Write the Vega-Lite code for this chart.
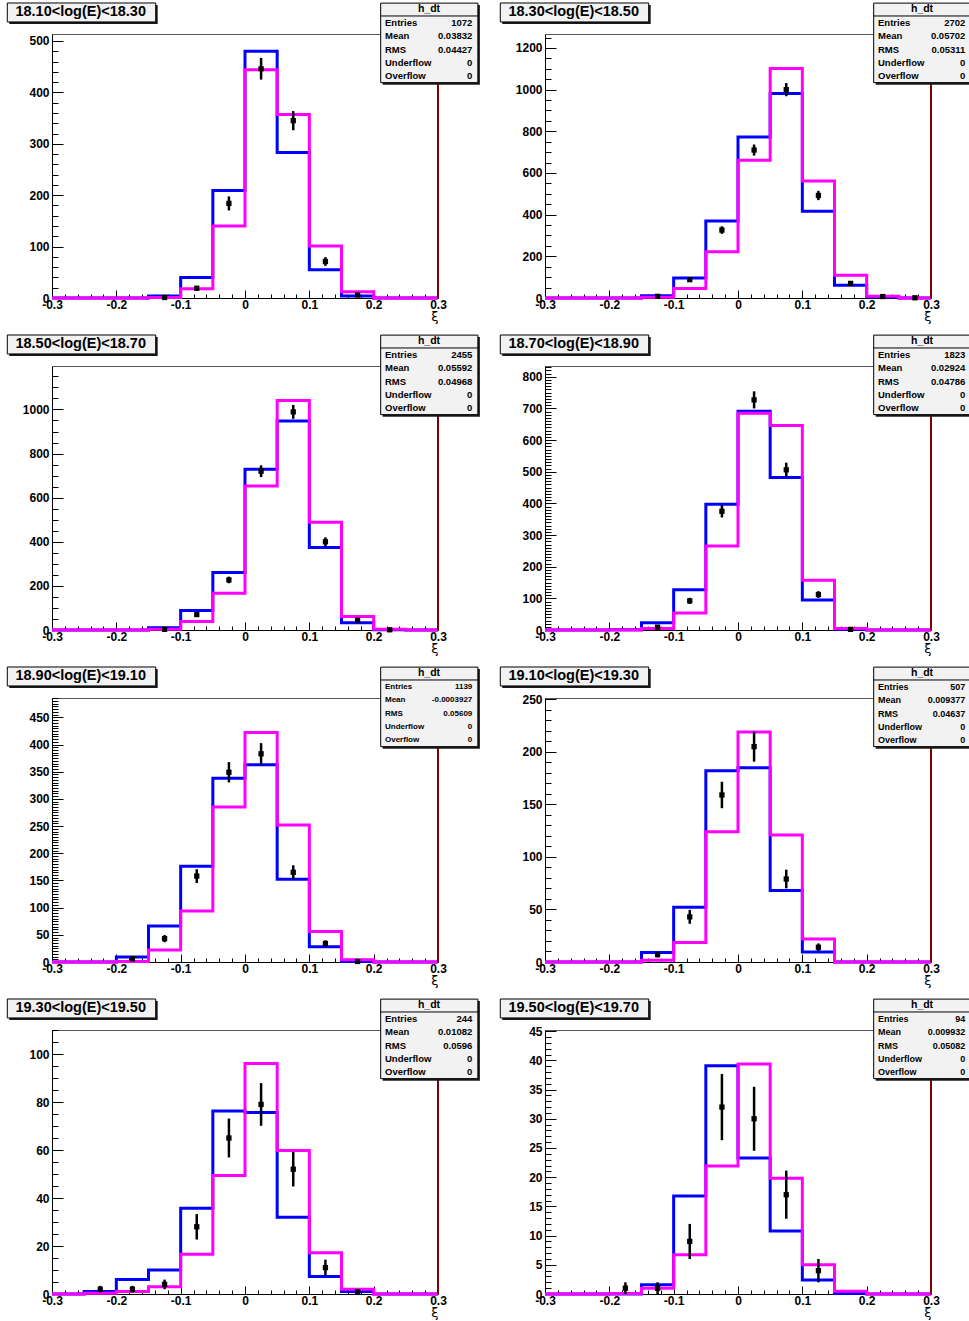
{
"$schema":"https://vega.github.io/schema/vega-lite/v6.json",
"padding":{"left":6,"top":1,"right":5,"bottom":5},
"autosize":{"type":"pad"},
"config":{
"view":{"stroke":"#555555","strokeWidth":1},
"axis":{"labelFont":"Liberation Sans","labelFontSize":12,"labelFontWeight":"bold","labelColor":"#000000","tickColor":"#000000","domainColor":"#000000","domainWidth":1,"tickWidth":1,"grid":false,"labelFlush":false,"labelOverlap":false,"titleColor":"#000000"},
"text":{"font":"Liberation Sans","color":"#000000"}
},
"datasets":{
"t":[
{"p":1,"name":"18.10<log(E)<18.30","h":"h_dt"},
{"p":2,"name":"18.30<log(E)<18.50","h":"h_dt"},
{"p":3,"name":"18.50<log(E)<18.70","h":"h_dt"},
{"p":4,"name":"18.70<log(E)<18.90","h":"h_dt"},
{"p":5,"name":"18.90<log(E)<19.10","h":"h_dt"},
{"p":6,"name":"19.10<log(E)<19.30","h":"h_dt"},
{"p":7,"name":"19.30<log(E)<19.50","h":"h_dt"},
{"p":8,"name":"19.50<log(E)<19.70","h":"h_dt"}
],
"s":[
{"p":1,"r":1,"k":"Entries","v":"1072"},{"p":1,"r":2,"k":"Mean","v":"0.03832"},{"p":1,"r":3,"k":"RMS","v":"0.04427"},{"p":1,"r":4,"k":"Underflow","v":"0"},{"p":1,"r":5,"k":"Overflow","v":"0"},
{"p":2,"r":1,"k":"Entries","v":"2702"},{"p":2,"r":2,"k":"Mean","v":"0.05702"},{"p":2,"r":3,"k":"RMS","v":"0.05311"},{"p":2,"r":4,"k":"Underflow","v":"0"},{"p":2,"r":5,"k":"Overflow","v":"0"},
{"p":3,"r":1,"k":"Entries","v":"2455"},{"p":3,"r":2,"k":"Mean","v":"0.05592"},{"p":3,"r":3,"k":"RMS","v":"0.04968"},{"p":3,"r":4,"k":"Underflow","v":"0"},{"p":3,"r":5,"k":"Overflow","v":"0"},
{"p":4,"r":1,"k":"Entries","v":"1823"},{"p":4,"r":2,"k":"Mean","v":"0.02924"},{"p":4,"r":3,"k":"RMS","v":"0.04786"},{"p":4,"r":4,"k":"Underflow","v":"0"},{"p":4,"r":5,"k":"Overflow","v":"0"},
{"p":5,"r":1,"k":"Entries","v":"1139"},{"p":5,"r":2,"k":"Mean","v":"-0.0003927"},{"p":5,"r":3,"k":"RMS","v":"0.05609"},{"p":5,"r":4,"k":"Underflow","v":"0"},{"p":5,"r":5,"k":"Overflow","v":"0"},
{"p":6,"r":1,"k":"Entries","v":"507"},{"p":6,"r":2,"k":"Mean","v":"0.009377"},{"p":6,"r":3,"k":"RMS","v":"0.04637"},{"p":6,"r":4,"k":"Underflow","v":"0"},{"p":6,"r":5,"k":"Overflow","v":"0"},
{"p":7,"r":1,"k":"Entries","v":"244"},{"p":7,"r":2,"k":"Mean","v":"0.01082"},{"p":7,"r":3,"k":"RMS","v":"0.0596"},{"p":7,"r":4,"k":"Underflow","v":"0"},{"p":7,"r":5,"k":"Overflow","v":"0"},
{"p":8,"r":1,"k":"Entries","v":"94"},{"p":8,"r":2,"k":"Mean","v":"0.009932"},{"p":8,"r":3,"k":"RMS","v":"0.05082"},{"p":8,"r":4,"k":"Underflow","v":"0"},{"p":8,"r":5,"k":"Overflow","v":"0"}
],
"h":[
{"p":1,"lo":-0.3,"hi":-0.25,"c":-0.275,"b":0,"m":0},
{"p":1,"lo":-0.25,"hi":-0.2,"c":-0.225,"b":0,"m":0},
{"p":1,"lo":-0.2,"hi":-0.15,"c":-0.175,"b":0,"m":0},
{"p":1,"lo":-0.15,"hi":-0.1,"c":-0.125,"b":4,"m":1,"d":1,"e":1},
{"p":1,"lo":-0.1,"hi":-0.05,"c":-0.075,"b":40,"m":18,"d":19,"e":4.4},
{"p":1,"lo":-0.05,"hi":0,"c":-0.025,"b":209,"m":140,"d":184,"e":13.6},
{"p":1,"lo":0,"hi":0.05,"c":0.025,"b":480,"m":444,"d":446,"e":21.1},
{"p":1,"lo":0.05,"hi":0.1,"c":0.075,"b":283,"m":357,"d":345,"e":18.6},
{"p":1,"lo":0.1,"hi":0.15,"c":0.125,"b":55,"m":101,"d":71,"e":8.4},
{"p":1,"lo":0.15,"hi":0.2,"c":0.175,"b":4,"m":12,"d":6,"e":2.4},
{"p":1,"lo":0.2,"hi":0.25,"c":0.225,"b":0,"m":0},
{"p":1,"lo":0.25,"hi":0.3,"c":0.275,"b":0,"m":0},
{"p":2,"lo":-0.3,"hi":-0.25,"c":-0.275,"b":0,"m":0},
{"p":2,"lo":-0.25,"hi":-0.2,"c":-0.225,"b":0,"m":0},
{"p":2,"lo":-0.2,"hi":-0.15,"c":-0.175,"b":0,"m":0},
{"p":2,"lo":-0.15,"hi":-0.1,"c":-0.125,"b":11,"m":4,"d":8,"e":2.8},
{"p":2,"lo":-0.1,"hi":-0.05,"c":-0.075,"b":96,"m":46,"d":88,"e":9.4},
{"p":2,"lo":-0.05,"hi":0,"c":-0.025,"b":370,"m":222,"d":326,"e":18.1},
{"p":2,"lo":0,"hi":0.05,"c":0.025,"b":773,"m":661,"d":710,"e":26.6},
{"p":2,"lo":0.05,"hi":0.1,"c":0.075,"b":981,"m":1101,"d":1000,"e":31.6},
{"p":2,"lo":0.1,"hi":0.15,"c":0.125,"b":416,"m":562,"d":492,"e":22.2},
{"p":2,"lo":0.15,"hi":0.2,"c":0.175,"b":61,"m":109,"d":70,"e":8.4},
{"p":2,"lo":0.2,"hi":0.25,"c":0.225,"b":5,"m":8,"d":7,"e":2.6},
{"p":2,"lo":0.25,"hi":0.3,"c":0.275,"b":0,"m":0,"d":1,"e":1},
{"p":3,"lo":-0.3,"hi":-0.25,"c":-0.275,"b":0,"m":0},
{"p":3,"lo":-0.25,"hi":-0.2,"c":-0.225,"b":0,"m":0},
{"p":3,"lo":-0.2,"hi":-0.15,"c":-0.175,"b":0,"m":0},
{"p":3,"lo":-0.15,"hi":-0.1,"c":-0.125,"b":10,"m":3,"d":3,"e":1.7},
{"p":3,"lo":-0.1,"hi":-0.05,"c":-0.075,"b":88,"m":38,"d":70,"e":8.4},
{"p":3,"lo":-0.05,"hi":0,"c":-0.025,"b":261,"m":167,"d":227,"e":15.1},
{"p":3,"lo":0,"hi":0.05,"c":0.025,"b":729,"m":653,"d":720,"e":26.8},
{"p":3,"lo":0.05,"hi":0.1,"c":0.075,"b":948,"m":1041,"d":989,"e":31.4},
{"p":3,"lo":0.1,"hi":0.15,"c":0.125,"b":374,"m":488,"d":400,"e":20},
{"p":3,"lo":0.15,"hi":0.2,"c":0.175,"b":33,"m":61,"d":45,"e":6.7},
{"p":3,"lo":0.2,"hi":0.25,"c":0.225,"b":1,"m":3,"d":1,"e":1},
{"p":3,"lo":0.25,"hi":0.3,"c":0.275,"b":0,"m":0},
{"p":4,"lo":-0.3,"hi":-0.25,"c":-0.275,"b":0,"m":0},
{"p":4,"lo":-0.25,"hi":-0.2,"c":-0.225,"b":0,"m":0},
{"p":4,"lo":-0.2,"hi":-0.15,"c":-0.175,"b":1,"m":0},
{"p":4,"lo":-0.15,"hi":-0.1,"c":-0.125,"b":23,"m":5,"d":9,"e":3},
{"p":4,"lo":-0.1,"hi":-0.05,"c":-0.075,"b":127,"m":54,"d":92,"e":9.6},
{"p":4,"lo":-0.05,"hi":0,"c":-0.025,"b":397,"m":265,"d":375,"e":19.4},
{"p":4,"lo":0,"hi":0.05,"c":0.025,"b":691,"m":685,"d":727,"e":27},
{"p":4,"lo":0.05,"hi":0.1,"c":0.075,"b":482,"m":646,"d":506,"e":22.5},
{"p":4,"lo":0.1,"hi":0.15,"c":0.125,"b":95,"m":157,"d":112,"e":10.6},
{"p":4,"lo":0.15,"hi":0.2,"c":0.175,"b":2,"m":5,"d":2,"e":1.4},
{"p":4,"lo":0.2,"hi":0.25,"c":0.225,"b":0,"m":0},
{"p":4,"lo":0.25,"hi":0.3,"c":0.275,"b":0,"m":0},
{"p":5,"lo":-0.3,"hi":-0.25,"c":-0.275,"b":0,"m":0},
{"p":5,"lo":-0.25,"hi":-0.2,"c":-0.225,"b":0,"m":0},
{"p":5,"lo":-0.2,"hi":-0.15,"c":-0.175,"b":9,"m":1,"d":6,"e":2.4},
{"p":5,"lo":-0.15,"hi":-0.1,"c":-0.125,"b":66,"m":22,"d":43,"e":6.6},
{"p":5,"lo":-0.1,"hi":-0.05,"c":-0.075,"b":176,"m":94,"d":158,"e":12.6},
{"p":5,"lo":-0.05,"hi":0,"c":-0.025,"b":338,"m":285,"d":349,"e":18.7},
{"p":5,"lo":0,"hi":0.05,"c":0.025,"b":363,"m":422,"d":383,"e":19.6},
{"p":5,"lo":0.05,"hi":0.1,"c":0.075,"b":152,"m":252,"d":165,"e":12.8},
{"p":5,"lo":0.1,"hi":0.15,"c":0.125,"b":28,"m":56,"d":34,"e":5.8},
{"p":5,"lo":0.15,"hi":0.2,"c":0.175,"b":1,"m":4,"d":1,"e":1},
{"p":5,"lo":0.2,"hi":0.25,"c":0.225,"b":0,"m":0},
{"p":5,"lo":0.25,"hi":0.3,"c":0.275,"b":0,"m":0},
{"p":6,"lo":-0.3,"hi":-0.25,"c":-0.275,"b":0,"m":0},
{"p":6,"lo":-0.25,"hi":-0.2,"c":-0.225,"b":0,"m":0},
{"p":6,"lo":-0.2,"hi":-0.15,"c":-0.175,"b":0,"m":0},
{"p":6,"lo":-0.15,"hi":-0.1,"c":-0.125,"b":9,"m":1.6,"d":7,"e":2.6},
{"p":6,"lo":-0.1,"hi":-0.05,"c":-0.075,"b":52,"m":18.5,"d":43,"e":6.6},
{"p":6,"lo":-0.05,"hi":0,"c":-0.025,"b":182,"m":124,"d":159,"e":12.6},
{"p":6,"lo":0,"hi":0.05,"c":0.025,"b":185,"m":219,"d":205,"e":14.3},
{"p":6,"lo":0.05,"hi":0.1,"c":0.075,"b":68,"m":121,"d":79,"e":8.9},
{"p":6,"lo":0.1,"hi":0.15,"c":0.125,"b":9.5,"m":22,"d":14,"e":3.7},
{"p":6,"lo":0.15,"hi":0.2,"c":0.175,"b":0,"m":0},
{"p":6,"lo":0.2,"hi":0.25,"c":0.225,"b":0,"m":0},
{"p":6,"lo":0.25,"hi":0.3,"c":0.275,"b":0,"m":0},
{"p":7,"lo":-0.3,"hi":-0.25,"c":-0.275,"b":0,"m":0},
{"p":7,"lo":-0.25,"hi":-0.2,"c":-0.225,"b":1,"m":0.3,"d":2,"e":1.4},
{"p":7,"lo":-0.2,"hi":-0.15,"c":-0.175,"b":6,"m":1,"d":2,"e":1.4},
{"p":7,"lo":-0.15,"hi":-0.1,"c":-0.125,"b":10,"m":3,"d":4,"e":2},
{"p":7,"lo":-0.1,"hi":-0.05,"c":-0.075,"b":35.7,"m":16.6,"d":28,"e":5.3},
{"p":7,"lo":-0.05,"hi":0,"c":-0.025,"b":76.3,"m":49.4,"d":65,"e":8.1},
{"p":7,"lo":0,"hi":0.05,"c":0.025,"b":75.6,"m":96,"d":79,"e":8.9},
{"p":7,"lo":0.05,"hi":0.1,"c":0.075,"b":32,"m":59.8,"d":52,"e":7.2},
{"p":7,"lo":0.1,"hi":0.15,"c":0.125,"b":7.3,"m":17.2,"d":11,"e":3.3},
{"p":7,"lo":0.15,"hi":0.2,"c":0.175,"b":1,"m":2,"d":1,"e":1},
{"p":7,"lo":0.2,"hi":0.25,"c":0.225,"b":0,"m":0},
{"p":7,"lo":0.25,"hi":0.3,"c":0.275,"b":0,"m":0},
{"p":8,"lo":-0.3,"hi":-0.25,"c":-0.275,"b":0,"m":0},
{"p":8,"lo":-0.25,"hi":-0.2,"c":-0.225,"b":0,"m":0},
{"p":8,"lo":-0.2,"hi":-0.15,"c":-0.175,"b":0,"m":0.1,"d":1,"e":1},
{"p":8,"lo":-0.15,"hi":-0.1,"c":-0.125,"b":1.6,"m":1,"d":1,"e":1},
{"p":8,"lo":-0.1,"hi":-0.05,"c":-0.075,"b":16.8,"m":6.7,"d":9,"e":3},
{"p":8,"lo":-0.05,"hi":0,"c":-0.025,"b":39.1,"m":21.9,"d":32,"e":5.66},
{"p":8,"lo":0,"hi":0.05,"c":0.025,"b":23.3,"m":39.4,"d":30,"e":5.48},
{"p":8,"lo":0.05,"hi":0.1,"c":0.075,"b":10.8,"m":19.8,"d":17,"e":4.12},
{"p":8,"lo":0.1,"hi":0.15,"c":0.125,"b":2.4,"m":5,"d":4,"e":2},
{"p":8,"lo":0.15,"hi":0.2,"c":0.175,"b":0.1,"m":0.45},
{"p":8,"lo":0.2,"hi":0.25,"c":0.225,"b":0,"m":0},
{"p":8,"lo":0.25,"hi":0.3,"c":0.275,"b":0,"m":0}
]
},
"columns":2,
"spacing":{"row":68,"column":107},
"bounds":"flush",
"concat":[
{"width":386,"height":264,"resolve":{"scale":{"y":"independent"}},"layer":[
{"data":{"name":"h"},"transform":[{"filter":"datum.p==1"}],"resolve":{"axis":{"x":"independent","y":"independent"}},"layer":[
{"transform":[{"fold":["lo","hi"],"as":["k","x"]}],"mark":{"type":"line","color":"#0000ff","strokeWidth":3,"strokeJoin":"miter"},"encoding":{"x":{"field":"x","type":"quantitative","scale":{"domain":[-0.3,0.3],"nice":false,"zero":false},"axis":{"orient":"bottom","values":[-0.3,-0.2,-0.1,0,0.1,0.2,0.3],"labelExpr":"toString(datum.value)","tickSize":-8,"labelPadding":9,"title":"ξ","titleAnchor":"end","titleAlign":"right","titleFontSize":13,"titleFontWeight":"normal","titleFont":"DejaVu Sans","titlePadding":0}},"y":{"field":"b","type":"quantitative","scale":{"domain":[0,513.6],"nice":false,"zero":false},"axis":{"orient":"left","values":[0,100,200,300,400,500],"labelExpr":"toString(datum.value)","tickSize":-11,"labelPadding":14,"title":null}},"order":[{"field":"c","type":"quantitative"},{"field":"k","type":"nominal","sort":"descending"}]}},
{"transform":[{"fold":["lo","hi"],"as":["k","x"]}],"mark":{"type":"line","color":"#ff00ff","strokeWidth":3,"strokeJoin":"miter"},"encoding":{"x":{"field":"x","type":"quantitative","scale":{"domain":[-0.3,0.3],"nice":false,"zero":false},"axis":{"orient":"bottom","values":[-0.3,-0.28,-0.26,-0.24,-0.22,-0.2,-0.18,-0.16,-0.14,-0.12,-0.1,-0.08,-0.06,-0.04,-0.02,0,0.02,0.04,0.06,0.08,0.1,0.12,0.14,0.16,0.18,0.2,0.22,0.24,0.26,0.28,0.3],"labels":false,"domain":false,"tickSize":-4,"title":null}},"y":{"field":"m","type":"quantitative","scale":{"domain":[0,513.6],"nice":false,"zero":false},"axis":{"orient":"left","values":[0,20,40,60,80,100,120,140,160,180,200,220,240,260,280,300,320,340,360,380,400,420,440,460,480,500],"labels":false,"domain":false,"tickSize":-6,"title":null}},"order":[{"field":"c","type":"quantitative"},{"field":"k","type":"nominal","sort":"descending"}]}},
{"transform":[{"filter":"isValid(datum.d)"}],"mark":{"type":"errorbar","color":"#000000","thickness":2.5,"ticks":false},"encoding":{"x":{"field":"c","type":"quantitative","scale":{"domain":[-0.3,0.3],"nice":false,"zero":false},"axis":null},"y":{"field":"d","type":"quantitative","scale":{"domain":[0,513.6],"nice":false,"zero":false},"axis":null},"yError":{"field":"e"}}},
{"transform":[{"filter":"isValid(datum.d)"}],"mark":{"type":"square","size":28,"color":"#000000","opacity":1},"encoding":{"x":{"field":"c","type":"quantitative","scale":{"domain":[-0.3,0.3],"nice":false,"zero":false},"axis":null},"y":{"field":"d","type":"quantitative","scale":{"domain":[0,513.6],"nice":false,"zero":false},"axis":null}}},
{"mark":{"type":"rule","color":"#800000","strokeWidth":1},"encoding":{"x":{"datum":0.3,"type":"quantitative","scale":{"domain":[-0.3,0.3],"nice":false,"zero":false},"axis":null}}}
]},
{"data":{"name":"t"},"transform":[{"filter":"datum.p==1"}],"layer":[
{"mark":{"type":"rect","fill":"#1a1a1a","xOffset":2,"x2Offset":2,"yOffset":2,"y2Offset":2},"encoding":{"x":{"datum":-0.3695,"type":"quantitative","scale":{"domain":[-0.3,0.3],"nice":false,"zero":false},"axis":null},"x2":{"datum":-0.1388},"y":{"datum":-0.51,"type":"quantitative","scale":{"domain":[1.83,21.75],"reverse":true,"nice":false,"zero":false},"axis":null},"y2":{"datum":0.92}}},
{"mark":{"type":"rect","fill":"#f2f2f2","stroke":"#000000","strokeWidth":1},"encoding":{"x":{"datum":-0.3695,"type":"quantitative","scale":{"domain":[-0.3,0.3],"nice":false,"zero":false},"axis":null},"x2":{"datum":-0.1388},"y":{"datum":-0.51,"type":"quantitative","scale":{"domain":[1.83,21.75],"reverse":true,"nice":false,"zero":false},"axis":null},"y2":{"datum":0.92}}},
{"mark":{"type":"text","fontSize":14.5,"fontWeight":"bold","align":"center","baseline":"middle","color":"#000000"},"encoding":{"x":{"datum":-0.2554,"type":"quantitative","scale":{"domain":[-0.3,0.3],"nice":false,"zero":false},"axis":null},"y":{"datum":0.15,"type":"quantitative","scale":{"domain":[1.83,21.75],"reverse":true,"nice":false,"zero":false},"axis":null},"text":{"field":"name"}}},
{"mark":{"type":"rect","fill":"#1a1a1a","xOffset":2,"x2Offset":2,"yOffset":2,"y2Offset":2},"encoding":{"x":{"datum":0.2109,"type":"quantitative","scale":{"domain":[-0.3,0.3],"nice":false,"zero":false},"axis":null},"x2":{"datum":0.362},"y":{"datum":-0.5,"type":"quantitative","scale":{"domain":[1.83,21.75],"reverse":true,"nice":false,"zero":false},"axis":null},"y2":{"datum":5.5}}},
{"mark":{"type":"rect","fill":"#f2f2f2","stroke":"#000000","strokeWidth":1},"encoding":{"x":{"datum":0.2109,"type":"quantitative","scale":{"domain":[-0.3,0.3],"nice":false,"zero":false},"axis":null},"x2":{"datum":0.362},"y":{"datum":-0.5,"type":"quantitative","scale":{"domain":[1.83,21.75],"reverse":true,"nice":false,"zero":false},"axis":null},"y2":{"datum":5.5}}},
{"mark":{"type":"rule","color":"#000000","strokeWidth":1},"encoding":{"x":{"datum":0.2109,"type":"quantitative","scale":{"domain":[-0.3,0.3],"nice":false,"zero":false},"axis":null},"x2":{"datum":0.362},"y":{"datum":0.47,"type":"quantitative","scale":{"domain":[1.83,21.75],"reverse":true,"nice":false,"zero":false},"axis":null}}},
{"mark":{"type":"text","fontSize":10.5,"fontWeight":"bold","align":"center","baseline":"middle","color":"#000000"},"encoding":{"x":{"datum":0.286,"type":"quantitative","scale":{"domain":[-0.3,0.3],"nice":false,"zero":false},"axis":null},"y":{"datum":-0.05,"type":"quantitative","scale":{"domain":[1.83,21.75],"reverse":true,"nice":false,"zero":false},"axis":null},"text":{"field":"h"}}},
{"data":{"name":"s"},"transform":[{"filter":"datum.p==1"}],"mark":{"type":"text","fontSize":9.5,"fontWeight":"bold","align":"left","baseline":"middle","color":"#000000"},"encoding":{"x":{"datum":0.2176,"type":"quantitative","scale":{"domain":[-0.3,0.3],"nice":false,"zero":false},"axis":null},"y":{"field":"r","type":"quantitative","scale":{"domain":[1.83,21.75],"reverse":true,"nice":false,"zero":false},"axis":null},"text":{"field":"k"}}},
{"data":{"name":"s"},"transform":[{"filter":"datum.p==1"}],"mark":{"type":"text","fontSize":9.5,"fontWeight":"bold","align":"right","baseline":"middle","color":"#000000"},"encoding":{"x":{"datum":0.3533,"type":"quantitative","scale":{"domain":[-0.3,0.3],"nice":false,"zero":false},"axis":null},"y":{"field":"r","type":"quantitative","scale":{"domain":[1.83,21.75],"reverse":true,"nice":false,"zero":false},"axis":null},"text":{"field":"v"}}}
]}
]},
{"width":386,"height":264,"resolve":{"scale":{"y":"independent"}},"layer":[
{"data":{"name":"h"},"transform":[{"filter":"datum.p==2"}],"resolve":{"axis":{"x":"independent","y":"independent"}},"layer":[
{"transform":[{"fold":["lo","hi"],"as":["k","x"]}],"mark":{"type":"line","color":"#0000ff","strokeWidth":3,"strokeJoin":"miter"},"encoding":{"x":{"field":"x","type":"quantitative","scale":{"domain":[-0.3,0.3],"nice":false,"zero":false},"axis":{"orient":"bottom","values":[-0.3,-0.2,-0.1,0,0.1,0.2,0.3],"labelExpr":"toString(datum.value)","tickSize":-8,"labelPadding":9,"title":"ξ","titleAnchor":"end","titleAlign":"right","titleFontSize":13,"titleFontWeight":"normal","titleFont":"DejaVu Sans","titlePadding":0}},"y":{"field":"b","type":"quantitative","scale":{"domain":[0,1267],"nice":false,"zero":false},"axis":{"orient":"left","values":[0,200,400,600,800,1000,1200],"labelExpr":"toString(datum.value)","tickSize":-11,"labelPadding":14,"title":null}},"order":[{"field":"c","type":"quantitative"},{"field":"k","type":"nominal","sort":"descending"}]}},
{"transform":[{"fold":["lo","hi"],"as":["k","x"]}],"mark":{"type":"line","color":"#ff00ff","strokeWidth":3,"strokeJoin":"miter"},"encoding":{"x":{"field":"x","type":"quantitative","scale":{"domain":[-0.3,0.3],"nice":false,"zero":false},"axis":{"orient":"bottom","values":[-0.3,-0.28,-0.26,-0.24,-0.22,-0.2,-0.18,-0.16,-0.14,-0.12,-0.1,-0.08,-0.06,-0.04,-0.02,0,0.02,0.04,0.06,0.08,0.1,0.12,0.14,0.16,0.18,0.2,0.22,0.24,0.26,0.28,0.3],"labels":false,"domain":false,"tickSize":-4,"title":null}},"y":{"field":"m","type":"quantitative","scale":{"domain":[0,1267],"nice":false,"zero":false},"axis":{"orient":"left","values":[0,50,100,150,200,250,300,350,400,450,500,550,600,650,700,750,800,850,900,950,1000,1050,1100,1150,1200,1250],"labels":false,"domain":false,"tickSize":-6,"title":null}},"order":[{"field":"c","type":"quantitative"},{"field":"k","type":"nominal","sort":"descending"}]}},
{"transform":[{"filter":"isValid(datum.d)"}],"mark":{"type":"errorbar","color":"#000000","thickness":2.5,"ticks":false},"encoding":{"x":{"field":"c","type":"quantitative","scale":{"domain":[-0.3,0.3],"nice":false,"zero":false},"axis":null},"y":{"field":"d","type":"quantitative","scale":{"domain":[0,1267],"nice":false,"zero":false},"axis":null},"yError":{"field":"e"}}},
{"transform":[{"filter":"isValid(datum.d)"}],"mark":{"type":"square","size":28,"color":"#000000","opacity":1},"encoding":{"x":{"field":"c","type":"quantitative","scale":{"domain":[-0.3,0.3],"nice":false,"zero":false},"axis":null},"y":{"field":"d","type":"quantitative","scale":{"domain":[0,1267],"nice":false,"zero":false},"axis":null}}},
{"mark":{"type":"rule","color":"#800000","strokeWidth":1},"encoding":{"x":{"datum":0.3,"type":"quantitative","scale":{"domain":[-0.3,0.3],"nice":false,"zero":false},"axis":null}}}
]},
{"data":{"name":"t"},"transform":[{"filter":"datum.p==2"}],"layer":[
{"mark":{"type":"rect","fill":"#1a1a1a","xOffset":2,"x2Offset":2,"yOffset":2,"y2Offset":2},"encoding":{"x":{"datum":-0.3695,"type":"quantitative","scale":{"domain":[-0.3,0.3],"nice":false,"zero":false},"axis":null},"x2":{"datum":-0.1388},"y":{"datum":-0.51,"type":"quantitative","scale":{"domain":[1.83,21.75],"reverse":true,"nice":false,"zero":false},"axis":null},"y2":{"datum":0.92}}},
{"mark":{"type":"rect","fill":"#f2f2f2","stroke":"#000000","strokeWidth":1},"encoding":{"x":{"datum":-0.3695,"type":"quantitative","scale":{"domain":[-0.3,0.3],"nice":false,"zero":false},"axis":null},"x2":{"datum":-0.1388},"y":{"datum":-0.51,"type":"quantitative","scale":{"domain":[1.83,21.75],"reverse":true,"nice":false,"zero":false},"axis":null},"y2":{"datum":0.92}}},
{"mark":{"type":"text","fontSize":14.5,"fontWeight":"bold","align":"center","baseline":"middle","color":"#000000"},"encoding":{"x":{"datum":-0.2554,"type":"quantitative","scale":{"domain":[-0.3,0.3],"nice":false,"zero":false},"axis":null},"y":{"datum":0.15,"type":"quantitative","scale":{"domain":[1.83,21.75],"reverse":true,"nice":false,"zero":false},"axis":null},"text":{"field":"name"}}},
{"mark":{"type":"rect","fill":"#1a1a1a","xOffset":2,"x2Offset":2,"yOffset":2,"y2Offset":2},"encoding":{"x":{"datum":0.2109,"type":"quantitative","scale":{"domain":[-0.3,0.3],"nice":false,"zero":false},"axis":null},"x2":{"datum":0.362},"y":{"datum":-0.5,"type":"quantitative","scale":{"domain":[1.83,21.75],"reverse":true,"nice":false,"zero":false},"axis":null},"y2":{"datum":5.5}}},
{"mark":{"type":"rect","fill":"#f2f2f2","stroke":"#000000","strokeWidth":1},"encoding":{"x":{"datum":0.2109,"type":"quantitative","scale":{"domain":[-0.3,0.3],"nice":false,"zero":false},"axis":null},"x2":{"datum":0.362},"y":{"datum":-0.5,"type":"quantitative","scale":{"domain":[1.83,21.75],"reverse":true,"nice":false,"zero":false},"axis":null},"y2":{"datum":5.5}}},
{"mark":{"type":"rule","color":"#000000","strokeWidth":1},"encoding":{"x":{"datum":0.2109,"type":"quantitative","scale":{"domain":[-0.3,0.3],"nice":false,"zero":false},"axis":null},"x2":{"datum":0.362},"y":{"datum":0.47,"type":"quantitative","scale":{"domain":[1.83,21.75],"reverse":true,"nice":false,"zero":false},"axis":null}}},
{"mark":{"type":"text","fontSize":10.5,"fontWeight":"bold","align":"center","baseline":"middle","color":"#000000"},"encoding":{"x":{"datum":0.286,"type":"quantitative","scale":{"domain":[-0.3,0.3],"nice":false,"zero":false},"axis":null},"y":{"datum":-0.05,"type":"quantitative","scale":{"domain":[1.83,21.75],"reverse":true,"nice":false,"zero":false},"axis":null},"text":{"field":"h"}}},
{"data":{"name":"s"},"transform":[{"filter":"datum.p==2"}],"mark":{"type":"text","fontSize":9.5,"fontWeight":"bold","align":"left","baseline":"middle","color":"#000000"},"encoding":{"x":{"datum":0.2176,"type":"quantitative","scale":{"domain":[-0.3,0.3],"nice":false,"zero":false},"axis":null},"y":{"field":"r","type":"quantitative","scale":{"domain":[1.83,21.75],"reverse":true,"nice":false,"zero":false},"axis":null},"text":{"field":"k"}}},
{"data":{"name":"s"},"transform":[{"filter":"datum.p==2"}],"mark":{"type":"text","fontSize":9.5,"fontWeight":"bold","align":"right","baseline":"middle","color":"#000000"},"encoding":{"x":{"datum":0.3533,"type":"quantitative","scale":{"domain":[-0.3,0.3],"nice":false,"zero":false},"axis":null},"y":{"field":"r","type":"quantitative","scale":{"domain":[1.83,21.75],"reverse":true,"nice":false,"zero":false},"axis":null},"text":{"field":"v"}}}
]}
]},
{"width":386,"height":264,"resolve":{"scale":{"y":"independent"}},"layer":[
{"data":{"name":"h"},"transform":[{"filter":"datum.p==3"}],"resolve":{"axis":{"x":"independent","y":"independent"}},"layer":[
{"transform":[{"fold":["lo","hi"],"as":["k","x"]}],"mark":{"type":"line","color":"#0000ff","strokeWidth":3,"strokeJoin":"miter"},"encoding":{"x":{"field":"x","type":"quantitative","scale":{"domain":[-0.3,0.3],"nice":false,"zero":false},"axis":{"orient":"bottom","values":[-0.3,-0.2,-0.1,0,0.1,0.2,0.3],"labelExpr":"toString(datum.value)","tickSize":-8,"labelPadding":9,"title":"ξ","titleAnchor":"end","titleAlign":"right","titleFontSize":13,"titleFontWeight":"normal","titleFont":"DejaVu Sans","titlePadding":0}},"y":{"field":"b","type":"quantitative","scale":{"domain":[0,1197],"nice":false,"zero":false},"axis":{"orient":"left","values":[0,200,400,600,800,1000],"labelExpr":"toString(datum.value)","tickSize":-11,"labelPadding":14,"title":null}},"order":[{"field":"c","type":"quantitative"},{"field":"k","type":"nominal","sort":"descending"}]}},
{"transform":[{"fold":["lo","hi"],"as":["k","x"]}],"mark":{"type":"line","color":"#ff00ff","strokeWidth":3,"strokeJoin":"miter"},"encoding":{"x":{"field":"x","type":"quantitative","scale":{"domain":[-0.3,0.3],"nice":false,"zero":false},"axis":{"orient":"bottom","values":[-0.3,-0.28,-0.26,-0.24,-0.22,-0.2,-0.18,-0.16,-0.14,-0.12,-0.1,-0.08,-0.06,-0.04,-0.02,0,0.02,0.04,0.06,0.08,0.1,0.12,0.14,0.16,0.18,0.2,0.22,0.24,0.26,0.28,0.3],"labels":false,"domain":false,"tickSize":-4,"title":null}},"y":{"field":"m","type":"quantitative","scale":{"domain":[0,1197],"nice":false,"zero":false},"axis":{"orient":"left","values":[0,50,100,150,200,250,300,350,400,450,500,550,600,650,700,750,800,850,900,950,1000,1050,1100,1150],"labels":false,"domain":false,"tickSize":-6,"title":null}},"order":[{"field":"c","type":"quantitative"},{"field":"k","type":"nominal","sort":"descending"}]}},
{"transform":[{"filter":"isValid(datum.d)"}],"mark":{"type":"errorbar","color":"#000000","thickness":2.5,"ticks":false},"encoding":{"x":{"field":"c","type":"quantitative","scale":{"domain":[-0.3,0.3],"nice":false,"zero":false},"axis":null},"y":{"field":"d","type":"quantitative","scale":{"domain":[0,1197],"nice":false,"zero":false},"axis":null},"yError":{"field":"e"}}},
{"transform":[{"filter":"isValid(datum.d)"}],"mark":{"type":"square","size":28,"color":"#000000","opacity":1},"encoding":{"x":{"field":"c","type":"quantitative","scale":{"domain":[-0.3,0.3],"nice":false,"zero":false},"axis":null},"y":{"field":"d","type":"quantitative","scale":{"domain":[0,1197],"nice":false,"zero":false},"axis":null}}},
{"mark":{"type":"rule","color":"#800000","strokeWidth":1},"encoding":{"x":{"datum":0.3,"type":"quantitative","scale":{"domain":[-0.3,0.3],"nice":false,"zero":false},"axis":null}}}
]},
{"data":{"name":"t"},"transform":[{"filter":"datum.p==3"}],"layer":[
{"mark":{"type":"rect","fill":"#1a1a1a","xOffset":2,"x2Offset":2,"yOffset":2,"y2Offset":2},"encoding":{"x":{"datum":-0.3695,"type":"quantitative","scale":{"domain":[-0.3,0.3],"nice":false,"zero":false},"axis":null},"x2":{"datum":-0.1388},"y":{"datum":-0.51,"type":"quantitative","scale":{"domain":[1.83,21.75],"reverse":true,"nice":false,"zero":false},"axis":null},"y2":{"datum":0.92}}},
{"mark":{"type":"rect","fill":"#f2f2f2","stroke":"#000000","strokeWidth":1},"encoding":{"x":{"datum":-0.3695,"type":"quantitative","scale":{"domain":[-0.3,0.3],"nice":false,"zero":false},"axis":null},"x2":{"datum":-0.1388},"y":{"datum":-0.51,"type":"quantitative","scale":{"domain":[1.83,21.75],"reverse":true,"nice":false,"zero":false},"axis":null},"y2":{"datum":0.92}}},
{"mark":{"type":"text","fontSize":14.5,"fontWeight":"bold","align":"center","baseline":"middle","color":"#000000"},"encoding":{"x":{"datum":-0.2554,"type":"quantitative","scale":{"domain":[-0.3,0.3],"nice":false,"zero":false},"axis":null},"y":{"datum":0.15,"type":"quantitative","scale":{"domain":[1.83,21.75],"reverse":true,"nice":false,"zero":false},"axis":null},"text":{"field":"name"}}},
{"mark":{"type":"rect","fill":"#1a1a1a","xOffset":2,"x2Offset":2,"yOffset":2,"y2Offset":2},"encoding":{"x":{"datum":0.2109,"type":"quantitative","scale":{"domain":[-0.3,0.3],"nice":false,"zero":false},"axis":null},"x2":{"datum":0.362},"y":{"datum":-0.5,"type":"quantitative","scale":{"domain":[1.83,21.75],"reverse":true,"nice":false,"zero":false},"axis":null},"y2":{"datum":5.5}}},
{"mark":{"type":"rect","fill":"#f2f2f2","stroke":"#000000","strokeWidth":1},"encoding":{"x":{"datum":0.2109,"type":"quantitative","scale":{"domain":[-0.3,0.3],"nice":false,"zero":false},"axis":null},"x2":{"datum":0.362},"y":{"datum":-0.5,"type":"quantitative","scale":{"domain":[1.83,21.75],"reverse":true,"nice":false,"zero":false},"axis":null},"y2":{"datum":5.5}}},
{"mark":{"type":"rule","color":"#000000","strokeWidth":1},"encoding":{"x":{"datum":0.2109,"type":"quantitative","scale":{"domain":[-0.3,0.3],"nice":false,"zero":false},"axis":null},"x2":{"datum":0.362},"y":{"datum":0.47,"type":"quantitative","scale":{"domain":[1.83,21.75],"reverse":true,"nice":false,"zero":false},"axis":null}}},
{"mark":{"type":"text","fontSize":10.5,"fontWeight":"bold","align":"center","baseline":"middle","color":"#000000"},"encoding":{"x":{"datum":0.286,"type":"quantitative","scale":{"domain":[-0.3,0.3],"nice":false,"zero":false},"axis":null},"y":{"datum":-0.05,"type":"quantitative","scale":{"domain":[1.83,21.75],"reverse":true,"nice":false,"zero":false},"axis":null},"text":{"field":"h"}}},
{"data":{"name":"s"},"transform":[{"filter":"datum.p==3"}],"mark":{"type":"text","fontSize":9.5,"fontWeight":"bold","align":"left","baseline":"middle","color":"#000000"},"encoding":{"x":{"datum":0.2176,"type":"quantitative","scale":{"domain":[-0.3,0.3],"nice":false,"zero":false},"axis":null},"y":{"field":"r","type":"quantitative","scale":{"domain":[1.83,21.75],"reverse":true,"nice":false,"zero":false},"axis":null},"text":{"field":"k"}}},
{"data":{"name":"s"},"transform":[{"filter":"datum.p==3"}],"mark":{"type":"text","fontSize":9.5,"fontWeight":"bold","align":"right","baseline":"middle","color":"#000000"},"encoding":{"x":{"datum":0.3533,"type":"quantitative","scale":{"domain":[-0.3,0.3],"nice":false,"zero":false},"axis":null},"y":{"field":"r","type":"quantitative","scale":{"domain":[1.83,21.75],"reverse":true,"nice":false,"zero":false},"axis":null},"text":{"field":"v"}}}
]}
]},
{"width":386,"height":264,"resolve":{"scale":{"y":"independent"}},"layer":[
{"data":{"name":"h"},"transform":[{"filter":"datum.p==4"}],"resolve":{"axis":{"x":"independent","y":"independent"}},"layer":[
{"transform":[{"fold":["lo","hi"],"as":["k","x"]}],"mark":{"type":"line","color":"#0000ff","strokeWidth":3,"strokeJoin":"miter"},"encoding":{"x":{"field":"x","type":"quantitative","scale":{"domain":[-0.3,0.3],"nice":false,"zero":false},"axis":{"orient":"bottom","values":[-0.3,-0.2,-0.1,0,0.1,0.2,0.3],"labelExpr":"toString(datum.value)","tickSize":-8,"labelPadding":9,"title":"ξ","titleAnchor":"end","titleAlign":"right","titleFontSize":13,"titleFontWeight":"normal","titleFont":"DejaVu Sans","titlePadding":0}},"y":{"field":"b","type":"quantitative","scale":{"domain":[0,834],"nice":false,"zero":false},"axis":{"orient":"left","values":[0,100,200,300,400,500,600,700,800],"labelExpr":"toString(datum.value)","tickSize":-11,"labelPadding":14,"title":null}},"order":[{"field":"c","type":"quantitative"},{"field":"k","type":"nominal","sort":"descending"}]}},
{"transform":[{"fold":["lo","hi"],"as":["k","x"]}],"mark":{"type":"line","color":"#ff00ff","strokeWidth":3,"strokeJoin":"miter"},"encoding":{"x":{"field":"x","type":"quantitative","scale":{"domain":[-0.3,0.3],"nice":false,"zero":false},"axis":{"orient":"bottom","values":[-0.3,-0.28,-0.26,-0.24,-0.22,-0.2,-0.18,-0.16,-0.14,-0.12,-0.1,-0.08,-0.06,-0.04,-0.02,0,0.02,0.04,0.06,0.08,0.1,0.12,0.14,0.16,0.18,0.2,0.22,0.24,0.26,0.28,0.3],"labels":false,"domain":false,"tickSize":-4,"title":null}},"y":{"field":"m","type":"quantitative","scale":{"domain":[0,834],"nice":false,"zero":false},"axis":{"orient":"left","values":[0,10,20,30,40,50,60,70,80,90,100,110,120,130,140,150,160,170,180,190,200,210,220,230,240,250,260,270,280,290,300,310,320,330,340,350,360,370,380,390,400,410,420,430,440,450,460,470,480,490,500,510,520,530,540,550,560,570,580,590,600,610,620,630,640,650,660,670,680,690,700,710,720,730,740,750,760,770,780,790,800,810,820,830],"labels":false,"domain":false,"tickSize":-6,"title":null}},"order":[{"field":"c","type":"quantitative"},{"field":"k","type":"nominal","sort":"descending"}]}},
{"transform":[{"filter":"isValid(datum.d)"}],"mark":{"type":"errorbar","color":"#000000","thickness":2.5,"ticks":false},"encoding":{"x":{"field":"c","type":"quantitative","scale":{"domain":[-0.3,0.3],"nice":false,"zero":false},"axis":null},"y":{"field":"d","type":"quantitative","scale":{"domain":[0,834],"nice":false,"zero":false},"axis":null},"yError":{"field":"e"}}},
{"transform":[{"filter":"isValid(datum.d)"}],"mark":{"type":"square","size":28,"color":"#000000","opacity":1},"encoding":{"x":{"field":"c","type":"quantitative","scale":{"domain":[-0.3,0.3],"nice":false,"zero":false},"axis":null},"y":{"field":"d","type":"quantitative","scale":{"domain":[0,834],"nice":false,"zero":false},"axis":null}}},
{"mark":{"type":"rule","color":"#800000","strokeWidth":1},"encoding":{"x":{"datum":0.3,"type":"quantitative","scale":{"domain":[-0.3,0.3],"nice":false,"zero":false},"axis":null}}}
]},
{"data":{"name":"t"},"transform":[{"filter":"datum.p==4"}],"layer":[
{"mark":{"type":"rect","fill":"#1a1a1a","xOffset":2,"x2Offset":2,"yOffset":2,"y2Offset":2},"encoding":{"x":{"datum":-0.3695,"type":"quantitative","scale":{"domain":[-0.3,0.3],"nice":false,"zero":false},"axis":null},"x2":{"datum":-0.1388},"y":{"datum":-0.51,"type":"quantitative","scale":{"domain":[1.83,21.75],"reverse":true,"nice":false,"zero":false},"axis":null},"y2":{"datum":0.92}}},
{"mark":{"type":"rect","fill":"#f2f2f2","stroke":"#000000","strokeWidth":1},"encoding":{"x":{"datum":-0.3695,"type":"quantitative","scale":{"domain":[-0.3,0.3],"nice":false,"zero":false},"axis":null},"x2":{"datum":-0.1388},"y":{"datum":-0.51,"type":"quantitative","scale":{"domain":[1.83,21.75],"reverse":true,"nice":false,"zero":false},"axis":null},"y2":{"datum":0.92}}},
{"mark":{"type":"text","fontSize":14.5,"fontWeight":"bold","align":"center","baseline":"middle","color":"#000000"},"encoding":{"x":{"datum":-0.2554,"type":"quantitative","scale":{"domain":[-0.3,0.3],"nice":false,"zero":false},"axis":null},"y":{"datum":0.15,"type":"quantitative","scale":{"domain":[1.83,21.75],"reverse":true,"nice":false,"zero":false},"axis":null},"text":{"field":"name"}}},
{"mark":{"type":"rect","fill":"#1a1a1a","xOffset":2,"x2Offset":2,"yOffset":2,"y2Offset":2},"encoding":{"x":{"datum":0.2109,"type":"quantitative","scale":{"domain":[-0.3,0.3],"nice":false,"zero":false},"axis":null},"x2":{"datum":0.362},"y":{"datum":-0.5,"type":"quantitative","scale":{"domain":[1.83,21.75],"reverse":true,"nice":false,"zero":false},"axis":null},"y2":{"datum":5.5}}},
{"mark":{"type":"rect","fill":"#f2f2f2","stroke":"#000000","strokeWidth":1},"encoding":{"x":{"datum":0.2109,"type":"quantitative","scale":{"domain":[-0.3,0.3],"nice":false,"zero":false},"axis":null},"x2":{"datum":0.362},"y":{"datum":-0.5,"type":"quantitative","scale":{"domain":[1.83,21.75],"reverse":true,"nice":false,"zero":false},"axis":null},"y2":{"datum":5.5}}},
{"mark":{"type":"rule","color":"#000000","strokeWidth":1},"encoding":{"x":{"datum":0.2109,"type":"quantitative","scale":{"domain":[-0.3,0.3],"nice":false,"zero":false},"axis":null},"x2":{"datum":0.362},"y":{"datum":0.47,"type":"quantitative","scale":{"domain":[1.83,21.75],"reverse":true,"nice":false,"zero":false},"axis":null}}},
{"mark":{"type":"text","fontSize":10.5,"fontWeight":"bold","align":"center","baseline":"middle","color":"#000000"},"encoding":{"x":{"datum":0.286,"type":"quantitative","scale":{"domain":[-0.3,0.3],"nice":false,"zero":false},"axis":null},"y":{"datum":-0.05,"type":"quantitative","scale":{"domain":[1.83,21.75],"reverse":true,"nice":false,"zero":false},"axis":null},"text":{"field":"h"}}},
{"data":{"name":"s"},"transform":[{"filter":"datum.p==4"}],"mark":{"type":"text","fontSize":9.5,"fontWeight":"bold","align":"left","baseline":"middle","color":"#000000"},"encoding":{"x":{"datum":0.2176,"type":"quantitative","scale":{"domain":[-0.3,0.3],"nice":false,"zero":false},"axis":null},"y":{"field":"r","type":"quantitative","scale":{"domain":[1.83,21.75],"reverse":true,"nice":false,"zero":false},"axis":null},"text":{"field":"k"}}},
{"data":{"name":"s"},"transform":[{"filter":"datum.p==4"}],"mark":{"type":"text","fontSize":9.5,"fontWeight":"bold","align":"right","baseline":"middle","color":"#000000"},"encoding":{"x":{"datum":0.3533,"type":"quantitative","scale":{"domain":[-0.3,0.3],"nice":false,"zero":false},"axis":null},"y":{"field":"r","type":"quantitative","scale":{"domain":[1.83,21.75],"reverse":true,"nice":false,"zero":false},"axis":null},"text":{"field":"v"}}}
]}
]},
{"width":386,"height":264,"resolve":{"scale":{"y":"independent"}},"layer":[
{"data":{"name":"h"},"transform":[{"filter":"datum.p==5"}],"resolve":{"axis":{"x":"independent","y":"independent"}},"layer":[
{"transform":[{"fold":["lo","hi"],"as":["k","x"]}],"mark":{"type":"line","color":"#0000ff","strokeWidth":3,"strokeJoin":"miter"},"encoding":{"x":{"field":"x","type":"quantitative","scale":{"domain":[-0.3,0.3],"nice":false,"zero":false},"axis":{"orient":"bottom","values":[-0.3,-0.2,-0.1,0,0.1,0.2,0.3],"labelExpr":"toString(datum.value)","tickSize":-8,"labelPadding":9,"title":"ξ","titleAnchor":"end","titleAlign":"right","titleFontSize":13,"titleFontWeight":"normal","titleFont":"DejaVu Sans","titlePadding":0}},"y":{"field":"b","type":"quantitative","scale":{"domain":[0,485.6],"nice":false,"zero":false},"axis":{"orient":"left","values":[0,50,100,150,200,250,300,350,400,450],"labelExpr":"toString(datum.value)","tickSize":-11,"labelPadding":14,"title":null}},"order":[{"field":"c","type":"quantitative"},{"field":"k","type":"nominal","sort":"descending"}]}},
{"transform":[{"fold":["lo","hi"],"as":["k","x"]}],"mark":{"type":"line","color":"#ff00ff","strokeWidth":3,"strokeJoin":"miter"},"encoding":{"x":{"field":"x","type":"quantitative","scale":{"domain":[-0.3,0.3],"nice":false,"zero":false},"axis":{"orient":"bottom","values":[-0.3,-0.28,-0.26,-0.24,-0.22,-0.2,-0.18,-0.16,-0.14,-0.12,-0.1,-0.08,-0.06,-0.04,-0.02,0,0.02,0.04,0.06,0.08,0.1,0.12,0.14,0.16,0.18,0.2,0.22,0.24,0.26,0.28,0.3],"labels":false,"domain":false,"tickSize":-4,"title":null}},"y":{"field":"m","type":"quantitative","scale":{"domain":[0,485.6],"nice":false,"zero":false},"axis":{"orient":"left","values":[0,5,10,15,20,25,30,35,40,45,50,55,60,65,70,75,80,85,90,95,100,105,110,115,120,125,130,135,140,145,150,155,160,165,170,175,180,185,190,195,200,205,210,215,220,225,230,235,240,245,250,255,260,265,270,275,280,285,290,295,300,305,310,315,320,325,330,335,340,345,350,355,360,365,370,375,380,385,390,395,400,405,410,415,420,425,430,435,440,445,450,455,460,465,470,475,480,485],"labels":false,"domain":false,"tickSize":-6,"title":null}},"order":[{"field":"c","type":"quantitative"},{"field":"k","type":"nominal","sort":"descending"}]}},
{"transform":[{"filter":"isValid(datum.d)"}],"mark":{"type":"errorbar","color":"#000000","thickness":2.5,"ticks":false},"encoding":{"x":{"field":"c","type":"quantitative","scale":{"domain":[-0.3,0.3],"nice":false,"zero":false},"axis":null},"y":{"field":"d","type":"quantitative","scale":{"domain":[0,485.6],"nice":false,"zero":false},"axis":null},"yError":{"field":"e"}}},
{"transform":[{"filter":"isValid(datum.d)"}],"mark":{"type":"square","size":28,"color":"#000000","opacity":1},"encoding":{"x":{"field":"c","type":"quantitative","scale":{"domain":[-0.3,0.3],"nice":false,"zero":false},"axis":null},"y":{"field":"d","type":"quantitative","scale":{"domain":[0,485.6],"nice":false,"zero":false},"axis":null}}},
{"mark":{"type":"rule","color":"#800000","strokeWidth":1},"encoding":{"x":{"datum":0.3,"type":"quantitative","scale":{"domain":[-0.3,0.3],"nice":false,"zero":false},"axis":null}}}
]},
{"data":{"name":"t"},"transform":[{"filter":"datum.p==5"}],"layer":[
{"mark":{"type":"rect","fill":"#1a1a1a","xOffset":2,"x2Offset":2,"yOffset":2,"y2Offset":2},"encoding":{"x":{"datum":-0.3695,"type":"quantitative","scale":{"domain":[-0.3,0.3],"nice":false,"zero":false},"axis":null},"x2":{"datum":-0.1388},"y":{"datum":-0.51,"type":"quantitative","scale":{"domain":[1.83,21.75],"reverse":true,"nice":false,"zero":false},"axis":null},"y2":{"datum":0.92}}},
{"mark":{"type":"rect","fill":"#f2f2f2","stroke":"#000000","strokeWidth":1},"encoding":{"x":{"datum":-0.3695,"type":"quantitative","scale":{"domain":[-0.3,0.3],"nice":false,"zero":false},"axis":null},"x2":{"datum":-0.1388},"y":{"datum":-0.51,"type":"quantitative","scale":{"domain":[1.83,21.75],"reverse":true,"nice":false,"zero":false},"axis":null},"y2":{"datum":0.92}}},
{"mark":{"type":"text","fontSize":14.5,"fontWeight":"bold","align":"center","baseline":"middle","color":"#000000"},"encoding":{"x":{"datum":-0.2554,"type":"quantitative","scale":{"domain":[-0.3,0.3],"nice":false,"zero":false},"axis":null},"y":{"datum":0.15,"type":"quantitative","scale":{"domain":[1.83,21.75],"reverse":true,"nice":false,"zero":false},"axis":null},"text":{"field":"name"}}},
{"mark":{"type":"rect","fill":"#1a1a1a","xOffset":2,"x2Offset":2,"yOffset":2,"y2Offset":2},"encoding":{"x":{"datum":0.2109,"type":"quantitative","scale":{"domain":[-0.3,0.3],"nice":false,"zero":false},"axis":null},"x2":{"datum":0.362},"y":{"datum":-0.5,"type":"quantitative","scale":{"domain":[1.83,21.75],"reverse":true,"nice":false,"zero":false},"axis":null},"y2":{"datum":5.5}}},
{"mark":{"type":"rect","fill":"#f2f2f2","stroke":"#000000","strokeWidth":1},"encoding":{"x":{"datum":0.2109,"type":"quantitative","scale":{"domain":[-0.3,0.3],"nice":false,"zero":false},"axis":null},"x2":{"datum":0.362},"y":{"datum":-0.5,"type":"quantitative","scale":{"domain":[1.83,21.75],"reverse":true,"nice":false,"zero":false},"axis":null},"y2":{"datum":5.5}}},
{"mark":{"type":"rule","color":"#000000","strokeWidth":1},"encoding":{"x":{"datum":0.2109,"type":"quantitative","scale":{"domain":[-0.3,0.3],"nice":false,"zero":false},"axis":null},"x2":{"datum":0.362},"y":{"datum":0.47,"type":"quantitative","scale":{"domain":[1.83,21.75],"reverse":true,"nice":false,"zero":false},"axis":null}}},
{"mark":{"type":"text","fontSize":10.5,"fontWeight":"bold","align":"center","baseline":"middle","color":"#000000"},"encoding":{"x":{"datum":0.286,"type":"quantitative","scale":{"domain":[-0.3,0.3],"nice":false,"zero":false},"axis":null},"y":{"datum":-0.05,"type":"quantitative","scale":{"domain":[1.83,21.75],"reverse":true,"nice":false,"zero":false},"axis":null},"text":{"field":"h"}}},
{"data":{"name":"s"},"transform":[{"filter":"datum.p==5"}],"mark":{"type":"text","fontSize":8,"fontWeight":"bold","align":"left","baseline":"middle","color":"#000000"},"encoding":{"x":{"datum":0.2176,"type":"quantitative","scale":{"domain":[-0.3,0.3],"nice":false,"zero":false},"axis":null},"y":{"field":"r","type":"quantitative","scale":{"domain":[1.83,21.75],"reverse":true,"nice":false,"zero":false},"axis":null},"text":{"field":"k"}}},
{"data":{"name":"s"},"transform":[{"filter":"datum.p==5"}],"mark":{"type":"text","fontSize":8,"fontWeight":"bold","align":"right","baseline":"middle","color":"#000000"},"encoding":{"x":{"datum":0.3533,"type":"quantitative","scale":{"domain":[-0.3,0.3],"nice":false,"zero":false},"axis":null},"y":{"field":"r","type":"quantitative","scale":{"domain":[1.83,21.75],"reverse":true,"nice":false,"zero":false},"axis":null},"text":{"field":"v"}}}
]}
]},
{"width":386,"height":264,"resolve":{"scale":{"y":"independent"}},"layer":[
{"data":{"name":"h"},"transform":[{"filter":"datum.p==6"}],"resolve":{"axis":{"x":"independent","y":"independent"}},"layer":[
{"transform":[{"fold":["lo","hi"],"as":["k","x"]}],"mark":{"type":"line","color":"#0000ff","strokeWidth":3,"strokeJoin":"miter"},"encoding":{"x":{"field":"x","type":"quantitative","scale":{"domain":[-0.3,0.3],"nice":false,"zero":false},"axis":{"orient":"bottom","values":[-0.3,-0.2,-0.1,0,0.1,0.2,0.3],"labelExpr":"toString(datum.value)","tickSize":-8,"labelPadding":9,"title":"ξ","titleAnchor":"end","titleAlign":"right","titleFontSize":13,"titleFontWeight":"normal","titleFont":"DejaVu Sans","titlePadding":0}},"y":{"field":"b","type":"quantitative","scale":{"domain":[0,251.3],"nice":false,"zero":false},"axis":{"orient":"left","values":[0,50,100,150,200,250],"labelExpr":"toString(datum.value)","tickSize":-11,"labelPadding":14,"title":null}},"order":[{"field":"c","type":"quantitative"},{"field":"k","type":"nominal","sort":"descending"}]}},
{"transform":[{"fold":["lo","hi"],"as":["k","x"]}],"mark":{"type":"line","color":"#ff00ff","strokeWidth":3,"strokeJoin":"miter"},"encoding":{"x":{"field":"x","type":"quantitative","scale":{"domain":[-0.3,0.3],"nice":false,"zero":false},"axis":{"orient":"bottom","values":[-0.3,-0.28,-0.26,-0.24,-0.22,-0.2,-0.18,-0.16,-0.14,-0.12,-0.1,-0.08,-0.06,-0.04,-0.02,0,0.02,0.04,0.06,0.08,0.1,0.12,0.14,0.16,0.18,0.2,0.22,0.24,0.26,0.28,0.3],"labels":false,"domain":false,"tickSize":-4,"title":null}},"y":{"field":"m","type":"quantitative","scale":{"domain":[0,251.3],"nice":false,"zero":false},"axis":{"orient":"left","values":[0,10,20,30,40,50,60,70,80,90,100,110,120,130,140,150,160,170,180,190,200,210,220,230,240,250],"labels":false,"domain":false,"tickSize":-6,"title":null}},"order":[{"field":"c","type":"quantitative"},{"field":"k","type":"nominal","sort":"descending"}]}},
{"transform":[{"filter":"isValid(datum.d)"}],"mark":{"type":"errorbar","color":"#000000","thickness":2.5,"ticks":false},"encoding":{"x":{"field":"c","type":"quantitative","scale":{"domain":[-0.3,0.3],"nice":false,"zero":false},"axis":null},"y":{"field":"d","type":"quantitative","scale":{"domain":[0,251.3],"nice":false,"zero":false},"axis":null},"yError":{"field":"e"}}},
{"transform":[{"filter":"isValid(datum.d)"}],"mark":{"type":"square","size":28,"color":"#000000","opacity":1},"encoding":{"x":{"field":"c","type":"quantitative","scale":{"domain":[-0.3,0.3],"nice":false,"zero":false},"axis":null},"y":{"field":"d","type":"quantitative","scale":{"domain":[0,251.3],"nice":false,"zero":false},"axis":null}}},
{"mark":{"type":"rule","color":"#800000","strokeWidth":1},"encoding":{"x":{"datum":0.3,"type":"quantitative","scale":{"domain":[-0.3,0.3],"nice":false,"zero":false},"axis":null}}}
]},
{"data":{"name":"t"},"transform":[{"filter":"datum.p==6"}],"layer":[
{"mark":{"type":"rect","fill":"#1a1a1a","xOffset":2,"x2Offset":2,"yOffset":2,"y2Offset":2},"encoding":{"x":{"datum":-0.3695,"type":"quantitative","scale":{"domain":[-0.3,0.3],"nice":false,"zero":false},"axis":null},"x2":{"datum":-0.1388},"y":{"datum":-0.51,"type":"quantitative","scale":{"domain":[1.83,21.75],"reverse":true,"nice":false,"zero":false},"axis":null},"y2":{"datum":0.92}}},
{"mark":{"type":"rect","fill":"#f2f2f2","stroke":"#000000","strokeWidth":1},"encoding":{"x":{"datum":-0.3695,"type":"quantitative","scale":{"domain":[-0.3,0.3],"nice":false,"zero":false},"axis":null},"x2":{"datum":-0.1388},"y":{"datum":-0.51,"type":"quantitative","scale":{"domain":[1.83,21.75],"reverse":true,"nice":false,"zero":false},"axis":null},"y2":{"datum":0.92}}},
{"mark":{"type":"text","fontSize":14.5,"fontWeight":"bold","align":"center","baseline":"middle","color":"#000000"},"encoding":{"x":{"datum":-0.2554,"type":"quantitative","scale":{"domain":[-0.3,0.3],"nice":false,"zero":false},"axis":null},"y":{"datum":0.15,"type":"quantitative","scale":{"domain":[1.83,21.75],"reverse":true,"nice":false,"zero":false},"axis":null},"text":{"field":"name"}}},
{"mark":{"type":"rect","fill":"#1a1a1a","xOffset":2,"x2Offset":2,"yOffset":2,"y2Offset":2},"encoding":{"x":{"datum":0.2109,"type":"quantitative","scale":{"domain":[-0.3,0.3],"nice":false,"zero":false},"axis":null},"x2":{"datum":0.362},"y":{"datum":-0.5,"type":"quantitative","scale":{"domain":[1.83,21.75],"reverse":true,"nice":false,"zero":false},"axis":null},"y2":{"datum":5.5}}},
{"mark":{"type":"rect","fill":"#f2f2f2","stroke":"#000000","strokeWidth":1},"encoding":{"x":{"datum":0.2109,"type":"quantitative","scale":{"domain":[-0.3,0.3],"nice":false,"zero":false},"axis":null},"x2":{"datum":0.362},"y":{"datum":-0.5,"type":"quantitative","scale":{"domain":[1.83,21.75],"reverse":true,"nice":false,"zero":false},"axis":null},"y2":{"datum":5.5}}},
{"mark":{"type":"rule","color":"#000000","strokeWidth":1},"encoding":{"x":{"datum":0.2109,"type":"quantitative","scale":{"domain":[-0.3,0.3],"nice":false,"zero":false},"axis":null},"x2":{"datum":0.362},"y":{"datum":0.47,"type":"quantitative","scale":{"domain":[1.83,21.75],"reverse":true,"nice":false,"zero":false},"axis":null}}},
{"mark":{"type":"text","fontSize":10.5,"fontWeight":"bold","align":"center","baseline":"middle","color":"#000000"},"encoding":{"x":{"datum":0.286,"type":"quantitative","scale":{"domain":[-0.3,0.3],"nice":false,"zero":false},"axis":null},"y":{"datum":-0.05,"type":"quantitative","scale":{"domain":[1.83,21.75],"reverse":true,"nice":false,"zero":false},"axis":null},"text":{"field":"h"}}},
{"data":{"name":"s"},"transform":[{"filter":"datum.p==6"}],"mark":{"type":"text","fontSize":9,"fontWeight":"bold","align":"left","baseline":"middle","color":"#000000"},"encoding":{"x":{"datum":0.2176,"type":"quantitative","scale":{"domain":[-0.3,0.3],"nice":false,"zero":false},"axis":null},"y":{"field":"r","type":"quantitative","scale":{"domain":[1.83,21.75],"reverse":true,"nice":false,"zero":false},"axis":null},"text":{"field":"k"}}},
{"data":{"name":"s"},"transform":[{"filter":"datum.p==6"}],"mark":{"type":"text","fontSize":9,"fontWeight":"bold","align":"right","baseline":"middle","color":"#000000"},"encoding":{"x":{"datum":0.3533,"type":"quantitative","scale":{"domain":[-0.3,0.3],"nice":false,"zero":false},"axis":null},"y":{"field":"r","type":"quantitative","scale":{"domain":[1.83,21.75],"reverse":true,"nice":false,"zero":false},"axis":null},"text":{"field":"v"}}}
]}
]},
{"width":386,"height":264,"resolve":{"scale":{"y":"independent"}},"layer":[
{"data":{"name":"h"},"transform":[{"filter":"datum.p==7"}],"resolve":{"axis":{"x":"independent","y":"independent"}},"layer":[
{"transform":[{"fold":["lo","hi"],"as":["k","x"]}],"mark":{"type":"line","color":"#0000ff","strokeWidth":3,"strokeJoin":"miter"},"encoding":{"x":{"field":"x","type":"quantitative","scale":{"domain":[-0.3,0.3],"nice":false,"zero":false},"axis":{"orient":"bottom","values":[-0.3,-0.2,-0.1,0,0.1,0.2,0.3],"labelExpr":"toString(datum.value)","tickSize":-8,"labelPadding":9,"title":"ξ","titleAnchor":"end","titleAlign":"right","titleFontSize":13,"titleFontWeight":"normal","titleFont":"DejaVu Sans","titlePadding":0}},"y":{"field":"b","type":"quantitative","scale":{"domain":[0,110],"nice":false,"zero":false},"axis":{"orient":"left","values":[0,20,40,60,80,100],"labelExpr":"toString(datum.value)","tickSize":-11,"labelPadding":14,"title":null}},"order":[{"field":"c","type":"quantitative"},{"field":"k","type":"nominal","sort":"descending"}]}},
{"transform":[{"fold":["lo","hi"],"as":["k","x"]}],"mark":{"type":"line","color":"#ff00ff","strokeWidth":3,"strokeJoin":"miter"},"encoding":{"x":{"field":"x","type":"quantitative","scale":{"domain":[-0.3,0.3],"nice":false,"zero":false},"axis":{"orient":"bottom","values":[-0.3,-0.28,-0.26,-0.24,-0.22,-0.2,-0.18,-0.16,-0.14,-0.12,-0.1,-0.08,-0.06,-0.04,-0.02,0,0.02,0.04,0.06,0.08,0.1,0.12,0.14,0.16,0.18,0.2,0.22,0.24,0.26,0.28,0.3],"labels":false,"domain":false,"tickSize":-4,"title":null}},"y":{"field":"m","type":"quantitative","scale":{"domain":[0,110],"nice":false,"zero":false},"axis":{"orient":"left","values":[0,5,10,15,20,25,30,35,40,45,50,55,60,65,70,75,80,85,90,95,100,105,110],"labels":false,"domain":false,"tickSize":-6,"title":null}},"order":[{"field":"c","type":"quantitative"},{"field":"k","type":"nominal","sort":"descending"}]}},
{"transform":[{"filter":"isValid(datum.d)"}],"mark":{"type":"errorbar","color":"#000000","thickness":2.5,"ticks":false},"encoding":{"x":{"field":"c","type":"quantitative","scale":{"domain":[-0.3,0.3],"nice":false,"zero":false},"axis":null},"y":{"field":"d","type":"quantitative","scale":{"domain":[0,110],"nice":false,"zero":false},"axis":null},"yError":{"field":"e"}}},
{"transform":[{"filter":"isValid(datum.d)"}],"mark":{"type":"square","size":28,"color":"#000000","opacity":1},"encoding":{"x":{"field":"c","type":"quantitative","scale":{"domain":[-0.3,0.3],"nice":false,"zero":false},"axis":null},"y":{"field":"d","type":"quantitative","scale":{"domain":[0,110],"nice":false,"zero":false},"axis":null}}},
{"mark":{"type":"rule","color":"#800000","strokeWidth":1},"encoding":{"x":{"datum":0.3,"type":"quantitative","scale":{"domain":[-0.3,0.3],"nice":false,"zero":false},"axis":null}}}
]},
{"data":{"name":"t"},"transform":[{"filter":"datum.p==7"}],"layer":[
{"mark":{"type":"rect","fill":"#1a1a1a","xOffset":2,"x2Offset":2,"yOffset":2,"y2Offset":2},"encoding":{"x":{"datum":-0.3695,"type":"quantitative","scale":{"domain":[-0.3,0.3],"nice":false,"zero":false},"axis":null},"x2":{"datum":-0.1388},"y":{"datum":-0.51,"type":"quantitative","scale":{"domain":[1.83,21.75],"reverse":true,"nice":false,"zero":false},"axis":null},"y2":{"datum":0.92}}},
{"mark":{"type":"rect","fill":"#f2f2f2","stroke":"#000000","strokeWidth":1},"encoding":{"x":{"datum":-0.3695,"type":"quantitative","scale":{"domain":[-0.3,0.3],"nice":false,"zero":false},"axis":null},"x2":{"datum":-0.1388},"y":{"datum":-0.51,"type":"quantitative","scale":{"domain":[1.83,21.75],"reverse":true,"nice":false,"zero":false},"axis":null},"y2":{"datum":0.92}}},
{"mark":{"type":"text","fontSize":14.5,"fontWeight":"bold","align":"center","baseline":"middle","color":"#000000"},"encoding":{"x":{"datum":-0.2554,"type":"quantitative","scale":{"domain":[-0.3,0.3],"nice":false,"zero":false},"axis":null},"y":{"datum":0.15,"type":"quantitative","scale":{"domain":[1.83,21.75],"reverse":true,"nice":false,"zero":false},"axis":null},"text":{"field":"name"}}},
{"mark":{"type":"rect","fill":"#1a1a1a","xOffset":2,"x2Offset":2,"yOffset":2,"y2Offset":2},"encoding":{"x":{"datum":0.2109,"type":"quantitative","scale":{"domain":[-0.3,0.3],"nice":false,"zero":false},"axis":null},"x2":{"datum":0.362},"y":{"datum":-0.5,"type":"quantitative","scale":{"domain":[1.83,21.75],"reverse":true,"nice":false,"zero":false},"axis":null},"y2":{"datum":5.5}}},
{"mark":{"type":"rect","fill":"#f2f2f2","stroke":"#000000","strokeWidth":1},"encoding":{"x":{"datum":0.2109,"type":"quantitative","scale":{"domain":[-0.3,0.3],"nice":false,"zero":false},"axis":null},"x2":{"datum":0.362},"y":{"datum":-0.5,"type":"quantitative","scale":{"domain":[1.83,21.75],"reverse":true,"nice":false,"zero":false},"axis":null},"y2":{"datum":5.5}}},
{"mark":{"type":"rule","color":"#000000","strokeWidth":1},"encoding":{"x":{"datum":0.2109,"type":"quantitative","scale":{"domain":[-0.3,0.3],"nice":false,"zero":false},"axis":null},"x2":{"datum":0.362},"y":{"datum":0.47,"type":"quantitative","scale":{"domain":[1.83,21.75],"reverse":true,"nice":false,"zero":false},"axis":null}}},
{"mark":{"type":"text","fontSize":10.5,"fontWeight":"bold","align":"center","baseline":"middle","color":"#000000"},"encoding":{"x":{"datum":0.286,"type":"quantitative","scale":{"domain":[-0.3,0.3],"nice":false,"zero":false},"axis":null},"y":{"datum":-0.05,"type":"quantitative","scale":{"domain":[1.83,21.75],"reverse":true,"nice":false,"zero":false},"axis":null},"text":{"field":"h"}}},
{"data":{"name":"s"},"transform":[{"filter":"datum.p==7"}],"mark":{"type":"text","fontSize":9.5,"fontWeight":"bold","align":"left","baseline":"middle","color":"#000000"},"encoding":{"x":{"datum":0.2176,"type":"quantitative","scale":{"domain":[-0.3,0.3],"nice":false,"zero":false},"axis":null},"y":{"field":"r","type":"quantitative","scale":{"domain":[1.83,21.75],"reverse":true,"nice":false,"zero":false},"axis":null},"text":{"field":"k"}}},
{"data":{"name":"s"},"transform":[{"filter":"datum.p==7"}],"mark":{"type":"text","fontSize":9.5,"fontWeight":"bold","align":"right","baseline":"middle","color":"#000000"},"encoding":{"x":{"datum":0.3533,"type":"quantitative","scale":{"domain":[-0.3,0.3],"nice":false,"zero":false},"axis":null},"y":{"field":"r","type":"quantitative","scale":{"domain":[1.83,21.75],"reverse":true,"nice":false,"zero":false},"axis":null},"text":{"field":"v"}}}
]}
]},
{"width":386,"height":264,"resolve":{"scale":{"y":"independent"}},"layer":[
{"data":{"name":"h"},"transform":[{"filter":"datum.p==8"}],"resolve":{"axis":{"x":"independent","y":"independent"}},"layer":[
{"transform":[{"fold":["lo","hi"],"as":["k","x"]}],"mark":{"type":"line","color":"#0000ff","strokeWidth":3,"strokeJoin":"miter"},"encoding":{"x":{"field":"x","type":"quantitative","scale":{"domain":[-0.3,0.3],"nice":false,"zero":false},"axis":{"orient":"bottom","values":[-0.3,-0.2,-0.1,0,0.1,0.2,0.3],"labelExpr":"toString(datum.value)","tickSize":-8,"labelPadding":9,"title":"ξ","titleAnchor":"end","titleAlign":"right","titleFontSize":13,"titleFontWeight":"normal","titleFont":"DejaVu Sans","titlePadding":0}},"y":{"field":"b","type":"quantitative","scale":{"domain":[0,45.2],"nice":false,"zero":false},"axis":{"orient":"left","values":[0,5,10,15,20,25,30,35,40,45],"labelExpr":"toString(datum.value)","tickSize":-11,"labelPadding":14,"title":null}},"order":[{"field":"c","type":"quantitative"},{"field":"k","type":"nominal","sort":"descending"}]}},
{"transform":[{"fold":["lo","hi"],"as":["k","x"]}],"mark":{"type":"line","color":"#ff00ff","strokeWidth":3,"strokeJoin":"miter"},"encoding":{"x":{"field":"x","type":"quantitative","scale":{"domain":[-0.3,0.3],"nice":false,"zero":false},"axis":{"orient":"bottom","values":[-0.3,-0.28,-0.26,-0.24,-0.22,-0.2,-0.18,-0.16,-0.14,-0.12,-0.1,-0.08,-0.06,-0.04,-0.02,0,0.02,0.04,0.06,0.08,0.1,0.12,0.14,0.16,0.18,0.2,0.22,0.24,0.26,0.28,0.3],"labels":false,"domain":false,"tickSize":-4,"title":null}},"y":{"field":"m","type":"quantitative","scale":{"domain":[0,45.2],"nice":false,"zero":false},"axis":{"orient":"left","values":[0,1,2,3,4,5,6,7,8,9,10,11,12,13,14,15,16,17,18,19,20,21,22,23,24,25,26,27,28,29,30,31,32,33,34,35,36,37,38,39,40,41,42,43,44,45],"labels":false,"domain":false,"tickSize":-6,"title":null}},"order":[{"field":"c","type":"quantitative"},{"field":"k","type":"nominal","sort":"descending"}]}},
{"transform":[{"filter":"isValid(datum.d)"}],"mark":{"type":"errorbar","color":"#000000","thickness":2.5,"ticks":false},"encoding":{"x":{"field":"c","type":"quantitative","scale":{"domain":[-0.3,0.3],"nice":false,"zero":false},"axis":null},"y":{"field":"d","type":"quantitative","scale":{"domain":[0,45.2],"nice":false,"zero":false},"axis":null},"yError":{"field":"e"}}},
{"transform":[{"filter":"isValid(datum.d)"}],"mark":{"type":"square","size":28,"color":"#000000","opacity":1},"encoding":{"x":{"field":"c","type":"quantitative","scale":{"domain":[-0.3,0.3],"nice":false,"zero":false},"axis":null},"y":{"field":"d","type":"quantitative","scale":{"domain":[0,45.2],"nice":false,"zero":false},"axis":null}}},
{"mark":{"type":"rule","color":"#800000","strokeWidth":1},"encoding":{"x":{"datum":0.3,"type":"quantitative","scale":{"domain":[-0.3,0.3],"nice":false,"zero":false},"axis":null}}}
]},
{"data":{"name":"t"},"transform":[{"filter":"datum.p==8"}],"layer":[
{"mark":{"type":"rect","fill":"#1a1a1a","xOffset":2,"x2Offset":2,"yOffset":2,"y2Offset":2},"encoding":{"x":{"datum":-0.3695,"type":"quantitative","scale":{"domain":[-0.3,0.3],"nice":false,"zero":false},"axis":null},"x2":{"datum":-0.1388},"y":{"datum":-0.51,"type":"quantitative","scale":{"domain":[1.83,21.75],"reverse":true,"nice":false,"zero":false},"axis":null},"y2":{"datum":0.92}}},
{"mark":{"type":"rect","fill":"#f2f2f2","stroke":"#000000","strokeWidth":1},"encoding":{"x":{"datum":-0.3695,"type":"quantitative","scale":{"domain":[-0.3,0.3],"nice":false,"zero":false},"axis":null},"x2":{"datum":-0.1388},"y":{"datum":-0.51,"type":"quantitative","scale":{"domain":[1.83,21.75],"reverse":true,"nice":false,"zero":false},"axis":null},"y2":{"datum":0.92}}},
{"mark":{"type":"text","fontSize":14.5,"fontWeight":"bold","align":"center","baseline":"middle","color":"#000000"},"encoding":{"x":{"datum":-0.2554,"type":"quantitative","scale":{"domain":[-0.3,0.3],"nice":false,"zero":false},"axis":null},"y":{"datum":0.15,"type":"quantitative","scale":{"domain":[1.83,21.75],"reverse":true,"nice":false,"zero":false},"axis":null},"text":{"field":"name"}}},
{"mark":{"type":"rect","fill":"#1a1a1a","xOffset":2,"x2Offset":2,"yOffset":2,"y2Offset":2},"encoding":{"x":{"datum":0.2109,"type":"quantitative","scale":{"domain":[-0.3,0.3],"nice":false,"zero":false},"axis":null},"x2":{"datum":0.362},"y":{"datum":-0.5,"type":"quantitative","scale":{"domain":[1.83,21.75],"reverse":true,"nice":false,"zero":false},"axis":null},"y2":{"datum":5.5}}},
{"mark":{"type":"rect","fill":"#f2f2f2","stroke":"#000000","strokeWidth":1},"encoding":{"x":{"datum":0.2109,"type":"quantitative","scale":{"domain":[-0.3,0.3],"nice":false,"zero":false},"axis":null},"x2":{"datum":0.362},"y":{"datum":-0.5,"type":"quantitative","scale":{"domain":[1.83,21.75],"reverse":true,"nice":false,"zero":false},"axis":null},"y2":{"datum":5.5}}},
{"mark":{"type":"rule","color":"#000000","strokeWidth":1},"encoding":{"x":{"datum":0.2109,"type":"quantitative","scale":{"domain":[-0.3,0.3],"nice":false,"zero":false},"axis":null},"x2":{"datum":0.362},"y":{"datum":0.47,"type":"quantitative","scale":{"domain":[1.83,21.75],"reverse":true,"nice":false,"zero":false},"axis":null}}},
{"mark":{"type":"text","fontSize":10.5,"fontWeight":"bold","align":"center","baseline":"middle","color":"#000000"},"encoding":{"x":{"datum":0.286,"type":"quantitative","scale":{"domain":[-0.3,0.3],"nice":false,"zero":false},"axis":null},"y":{"datum":-0.05,"type":"quantitative","scale":{"domain":[1.83,21.75],"reverse":true,"nice":false,"zero":false},"axis":null},"text":{"field":"h"}}},
{"data":{"name":"s"},"transform":[{"filter":"datum.p==8"}],"mark":{"type":"text","fontSize":9,"fontWeight":"bold","align":"left","baseline":"middle","color":"#000000"},"encoding":{"x":{"datum":0.2176,"type":"quantitative","scale":{"domain":[-0.3,0.3],"nice":false,"zero":false},"axis":null},"y":{"field":"r","type":"quantitative","scale":{"domain":[1.83,21.75],"reverse":true,"nice":false,"zero":false},"axis":null},"text":{"field":"k"}}},
{"data":{"name":"s"},"transform":[{"filter":"datum.p==8"}],"mark":{"type":"text","fontSize":9,"fontWeight":"bold","align":"right","baseline":"middle","color":"#000000"},"encoding":{"x":{"datum":0.3533,"type":"quantitative","scale":{"domain":[-0.3,0.3],"nice":false,"zero":false},"axis":null},"y":{"field":"r","type":"quantitative","scale":{"domain":[1.83,21.75],"reverse":true,"nice":false,"zero":false},"axis":null},"text":{"field":"v"}}}
]}
]}
]
}
